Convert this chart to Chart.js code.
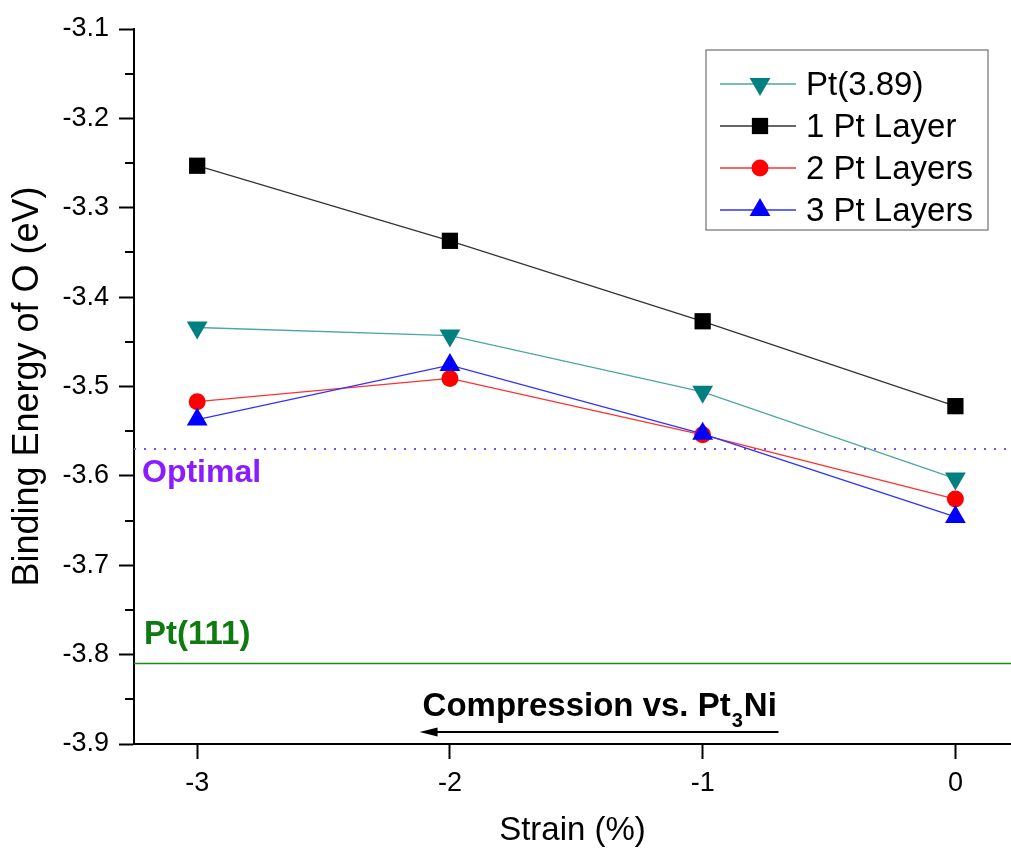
<!DOCTYPE html>
<html>
<head>
<meta charset="utf-8">
<title>Binding Energy of O vs Strain</title>
<script src="https://cdn.jsdelivr.net/npm/chart.js@4.4.0/dist/chart.umd.min.js"></script>
<style>
  html, body { margin: 0; padding: 0; background: #fff; }
  #wrap { width: 1011px; height: 853px; }
</style>
</head>
<body>
<div id="wrap"><canvas id="strainChart" width="1011" height="853"></canvas></div>
<script>
// ---- data ----
const strain = [-3, -2, -1, 0];
const pt389 = [-3.434, -3.443, -3.506, -3.603];
const onePtLayer = [-3.253, -3.337, -3.427, -3.522];
const twoPtLayers = [-3.517, -3.491, -3.554, -3.626];
const threePtLayers = [-3.537, -3.476, -3.553, -3.646];
const seriesNames = ['Pt(3.89)', '1 Pt Layer', '2 Pt Layers', '3 Pt Layers'];

// reference levels
const optimalLevel = -3.57;
const pt111Level = -3.81;

// axes
const xRange = [-3.25, 0.22];
const yRange = [-3.9, -3.1];
const xStep = 1;
const yStep = 0.1;

// compression arrow (in strain units)
const arrowFrom = -0.7;
const arrowTo = -2.12;

const FONT = '"Liberation Sans", Arial, Helvetica, sans-serif';
Chart.defaults.font.family = FONT;
Chart.defaults.color = '#000';

function pts(ys) {
    return strain.map((x, i) => ({ x: x, y: ys[i] }));
}

const series = [
    { name: seriesNames[0], ys: pt389, line: '#4ba7a3', fill: '#008080', style: 'triangle', rot: 180, r: 12, order: 4 },
    { name: seriesNames[1], ys: onePtLayer, line: '#333333', fill: '#000000', style: 'rect', rot: 0, r: 11.5, order: 3 },
    { name: seriesNames[2], ys: twoPtLayers, line: '#ff3030', fill: '#ff0000', style: 'circle', rot: 0, r: 8.5, order: 2 },
    { name: seriesNames[3], ys: threePtLayers, line: '#3030ff', fill: '#0000ff', style: 'triangle', rot: 0, r: 12, order: 1 }
];

const datasets = series.map(s => ({
    label: s.name,
    data: pts(s.ys),
    borderColor: s.line,
    borderWidth: 1.3,
    pointStyle: s.style,
    pointRotation: s.rot,
    pointRadius: s.r,
    pointBackgroundColor: s.fill,
    pointBorderColor: s.fill,
    pointBorderWidth: 0,
    order: s.order
}));

// horizontal reference lines
datasets.push({
    label: 'Optimal',
    data: [{ x: xRange[0], y: optimalLevel }, { x: xRange[1], y: optimalLevel }],
    borderColor: '#7b4df0',
    borderWidth: 2,
    borderDash: [2, 8],
    pointRadius: 0,
    order: 10
});
datasets.push({
    label: 'Pt(111)',
    data: [{ x: xRange[0], y: pt111Level }, { x: xRange[1], y: pt111Level }],
    borderColor: '#1a8a1a',
    borderWidth: 1.5,
    pointRadius: 0,
    order: 11
});

// minor ticks on the y axis (every 0.05)
const minorTicks = {
    id: 'minorTicks',
    afterDraw(chart) {
        const ctx = chart.ctx;
        const y = chart.scales.y;
        const left = chart.chartArea.left;
        ctx.save();
        ctx.strokeStyle = '#000';
        ctx.lineWidth = 2;
        for (let v = yRange[0] + yStep / 2; v < yRange[1]; v += yStep) {
            const py = Math.round(y.getPixelForValue(v));
            ctx.beginPath();
            ctx.moveTo(left - 9, py);
            ctx.lineTo(left, py);
            ctx.stroke();
        }
        ctx.restore();
    }
};

// text labels and the compression arrow
const annotations = {
    id: 'annotations',
    afterDraw(chart) {
        const ctx = chart.ctx;
        const xs = chart.scales.x;
        const ys = chart.scales.y;
        const left = chart.chartArea.left;
        ctx.save();
        ctx.textAlign = 'left';
        ctx.textBaseline = 'alphabetic';

        ctx.font = 'bold 32px ' + FONT;
        ctx.fillStyle = '#8a1cff';
        ctx.fillText('Optimal', left + 8, ys.getPixelForValue(optimalLevel) + 33);

        ctx.font = 'bold 33px ' + FONT;
        ctx.fillStyle = '#0f7a0f';
        ctx.fillText('Pt(111)', left + 10, ys.getPixelForValue(pt111Level) - 20);

        // Compression vs. Pt3Ni
        const ay = ys.getPixelForValue(yRange[0]) - 12;
        const tx = xs.getPixelForValue(arrowTo) + 3;
        const tb = ay - 16;
        ctx.fillStyle = '#000';
        ctx.font = 'bold 33px ' + FONT;
        const part1 = 'Compression vs. Pt';
        ctx.fillText(part1, tx, tb);
        let cx = tx + ctx.measureText(part1).width;
        ctx.font = 'bold 20px ' + FONT;
        ctx.fillText('3', cx + 1, tb + 11);
        cx += ctx.measureText('3').width + 2;
        ctx.font = 'bold 33px ' + FONT;
        ctx.fillText('Ni', cx, tb);

        const x0 = xs.getPixelForValue(arrowFrom);
        const x1 = xs.getPixelForValue(arrowTo);
        ctx.strokeStyle = '#000';
        ctx.lineWidth = 2;
        ctx.beginPath();
        ctx.moveTo(x0, ay);
        ctx.lineTo(x1 + 14, ay);
        ctx.stroke();
        ctx.beginPath();
        ctx.moveTo(x1, ay);
        ctx.lineTo(x1 + 18, ay - 4.5);
        ctx.lineTo(x1 + 18, ay + 4.5);
        ctx.closePath();
        ctx.fill();
        ctx.restore();
    }
};

// boxed legend in the upper right
const boxLegend = {
    id: 'boxLegend',
    afterDraw(chart) {
        const ctx = chart.ctx;
        const bx = 706, by = 50, bw = 282, bh = 180;
        ctx.save();
        ctx.fillStyle = '#fff';
        ctx.fillRect(bx, by, bw, bh);
        ctx.strokeStyle = '#8c8c8c';
        ctx.lineWidth = 1.5;
        ctx.strokeRect(bx, by, bw, bh);
        ctx.font = '33px ' + FONT;
        ctx.textAlign = 'left';
        ctx.textBaseline = 'alphabetic';
        series.forEach((s, i) => {
            const ry = by + 34 + i * 42;
            ctx.strokeStyle = s.line;
            ctx.lineWidth = 1.3;
            ctx.beginPath();
            ctx.moveTo(bx + 14, ry);
            ctx.lineTo(bx + 90, ry);
            ctx.stroke();
            ctx.fillStyle = s.fill;
            Chart.helpers.drawPoint(ctx, {
                pointStyle: s.style,
                rotation: s.rot,
                radius: s.r,
                borderWidth: 0
            }, bx + 54, ry);
            ctx.fillStyle = '#000';
            ctx.fillText(s.name, bx + 100, ry + 11);
        });
        ctx.restore();
    }
};

new Chart(document.getElementById('strainChart'), {
    type: 'line',
    data: { datasets: datasets },
    options: {
        responsive: false,
        animation: false,
        devicePixelRatio: 1,
        layout: { autoPadding: false, padding: { top: 29, left: 0, right: 0, bottom: 0 } },
        plugins: {
            legend: { display: false },
            tooltip: { enabled: false }
        },
        scales: {
            x: {
                type: 'linear',
                min: xRange[0],
                max: xRange[1],
                afterFit(scale) {
                    scale.height = 109;
                    scale.paddingLeft = 0;
                    scale.paddingRight = 0;
                },
                ticks: {
                    stepSize: xStep,
                    includeBounds: false,
                    font: { size: 27 },
                    color: '#000',
                    padding: 8,
                    callback: v => String(v)
                },
                grid: { drawOnChartArea: false, tickLength: 15, tickWidth: 2, tickColor: '#000' },
                border: { color: '#000', width: 2 },
                title: { display: true, text: 'Strain (%)', font: { size: 33 }, color: '#000', padding: { top: 0, bottom: 2 } }
            },
            y: {
                type: 'linear',
                min: yRange[0],
                max: yRange[1],
                afterFit(scale) { scale.width = 134; },
                ticks: {
                    stepSize: yStep,
                    font: { size: 27 },
                    color: '#000',
                    padding: 10,
                    callback: v => v.toFixed(1)
                },
                grid: { drawOnChartArea: false, tickLength: 15, tickWidth: 2, tickColor: '#000' },
                border: { color: '#000', width: 2 },
                title: { display: true, text: 'Binding Energy of O (eV)', font: { size: 36 }, color: '#000', padding: { top: 6, bottom: 0 } }
            }
        }
    },
    plugins: [minorTicks, annotations, boxLegend]
});
</script>
</body>
</html>
